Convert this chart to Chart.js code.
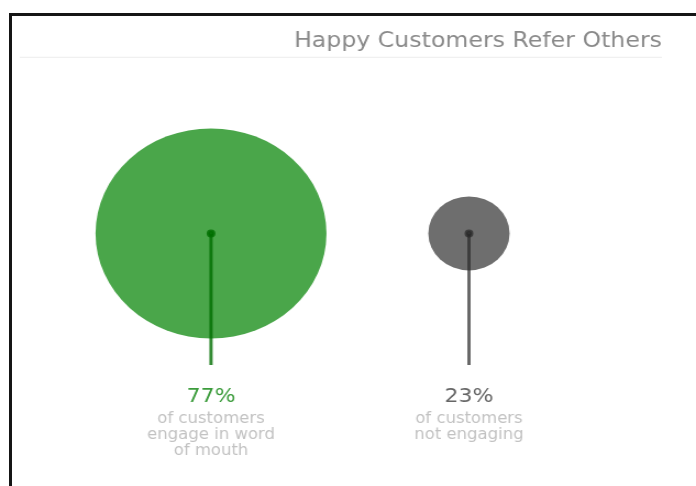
<!DOCTYPE html>
<html>
<head>
<meta charset="utf-8">
<script src="https://cdn.jsdelivr.net/npm/chart.js@4"></script>
<style>
  body { margin: 0; background: #fff; }
  #frame {
    position: absolute; left: 9px; top: 13px;
    width: 800px; height: 600px;
    border-left: 3px solid #151515; border-top: 3px solid #151515;
  }
  #referChart { position: absolute; left: 0; top: 0; }
</style>
</head>
<body>
<div id="frame"></div>
<!-- drawn narrow, shown stretched to the full width -->
<canvas id="referChart" width="633" height="486" style="width:696px;height:486px"></canvas>
<script>
let chartTitle = "Happy Customers Refer Others";
let shares = [77, 23];
let captions = [
    ["of customers", "engage in word", "of mouth"],
    ["of customers", "not engaging"]
];
let fillColors = ['#4aa64a', '#6e6e6e'];
let stickColors = ['rgba(0,110,0,0.8)', 'rgba(40,40,40,0.7)'];
let shareColors = ['#3c9c3c', '#666666'];

const stickEnd = -0.78;

// thin separator under the title
const titleRule = {
    id: 'titleRule',
    beforeDraw(chart) {
        const ctx = chart.ctx;
        const tb = chart.titleBlock;
        const y = tb.bottom - 7.5;
        ctx.save();
        ctx.strokeStyle = '#ececec';
        ctx.lineWidth = 1;
        ctx.beginPath();
        ctx.moveTo(18, y);
        ctx.lineTo(tb.right, y);
        ctx.stroke();
        ctx.restore();
    }
};

// percentage and caption under each stick
const shareLabels = {
    id: 'shareLabels',
    afterDraw(chart) {
        const ctx = chart.ctx;
        const meta = chart.getDatasetMeta(shares.length);
        const base = chart.scales.y.getPixelForValue(stickEnd);
        ctx.save();
        ctx.textAlign = 'center';
        ctx.textBaseline = 'middle';
        meta.data.forEach((el, i) => {
            ctx.fillStyle = shareColors[i];
            ctx.font = '20px "DejaVu Sans"';
            ctx.fillText(shares[i] + '%', el.x, base + 32);
            ctx.fillStyle = '#c2c2c2';
            ctx.font = '15px "DejaVu Sans"';
            captions[i].forEach((line, j) => {
                ctx.fillText(line, el.x, base + 54 + j * 16);
            });
        });
        ctx.restore();
    }
};

let stickSets = shares.map((v, i) => ({
    type: 'line',
    data: [{x: i, y: 0}, {x: i, y: stickEnd}],
    borderColor: stickColors[i],
    backgroundColor: stickColors[i],
    borderWidth: 3,
    pointRadius: ctx => ctx.dataIndex === 0 ? 2.5 : 0,
    pointStyle: 'circle',
    order: 0
}));

let ctx = document.getElementById("referChart").getContext('2d');

let chart = new Chart(ctx, {
    type: 'bubble',
    data: {
        datasets: stickSets.concat([{
            data: shares.map((v, i) => ({x: i, y: 0, v: v})),
            backgroundColor: fillColors,
            borderWidth: 0,
            radius: c => 8 + 1.26 * c.raw.v,
            hoverRadius: 0,
            order: 1
        }])
    },
    options: {
        responsive: false,
        animation: false,
        events: [],
        layout: { autoPadding: false, padding: { left: 0, right: 31, top: 0, bottom: 84 } },
        scales: {
            x: { type: 'linear', display: false, min: -0.818, max: 1.748 },
            y: { type: 'linear', display: false, min: -1, max: 1 }
        },
        plugins: {
            legend: { display: false },
            tooltip: { enabled: false },
            title: {
                display: true,
                text: chartTitle,
                align: 'end',
                color: '#8a8a8a',
                font: { family: '"DejaVu Sans"', size: 21.5, weight: 'normal', lineHeight: 1.2 },
                padding: { top: 29, bottom: 10 }
            }
        }
    },
    plugins: [titleRule, shareLabels]
});
</script>
</body>
</html>
